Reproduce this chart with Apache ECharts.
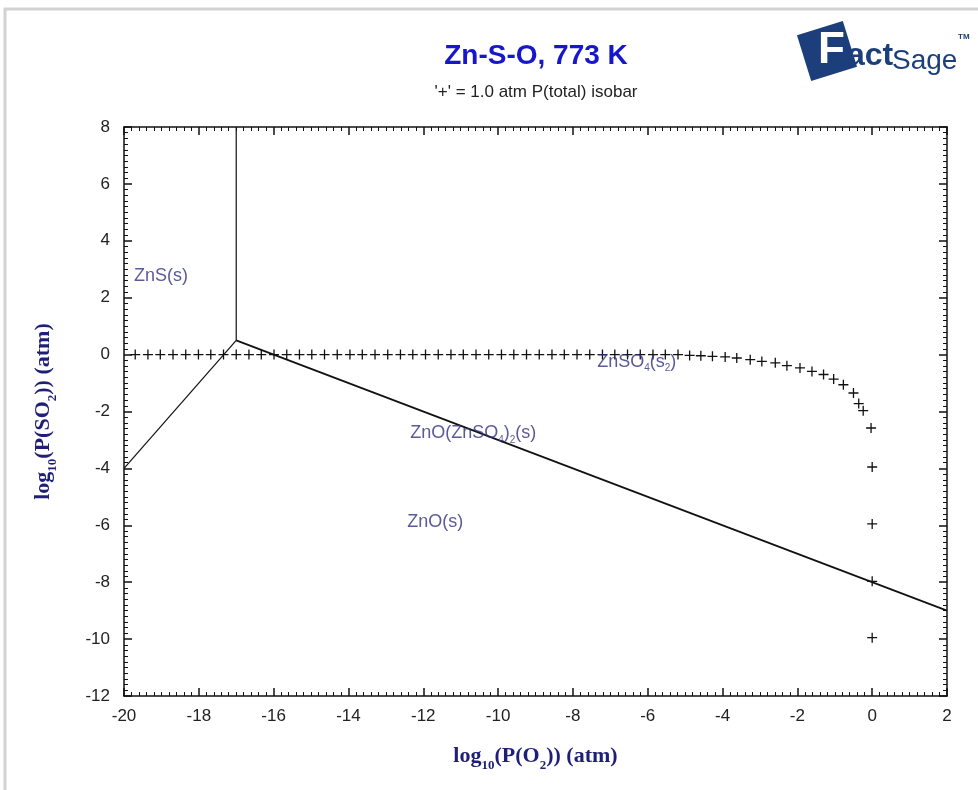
<!DOCTYPE html>
<html>
<head>
<meta charset="utf-8">
<script src="https://cdn.jsdelivr.net/npm/echarts@6/dist/echarts.min.js"></script>
<style>
  html, body { margin: 0; padding: 0; background: #fff; }
  #chart { width: 978px; height: 790px; }
</style>
</head>
<body>
<div id="chart"></div>
<script>
// Axis ranges and ticks (log10 of partial pressures, atm)
const xMin = -20, xMax = 2, xStep = 2;
const yMin = -12, yMax = 8, yStep = 2;

// Phase boundaries of the Zn-S-O predominance diagram at 773 K
const znsUpperBoundary = [[-17.0, 8.0], [-17.0, 0.5]];
const znsZnoBoundary = [[-20.0, -4.0], [-17.0, 0.5]];
const sulfateBoundary = [[-17.0, 0.5], [2.0, -9.0]];

// 1.0 atm total-pressure isobar ('+' points)
const isobarX = [
  -19.70, -19.36, -19.03, -18.69, -18.35, -18.01, -17.68, -17.34, -17.00, -16.66,
  -16.33, -15.99, -15.65, -15.31, -14.98, -14.64, -14.30, -13.96, -13.63, -13.29,
  -12.95, -12.61, -12.28, -11.94, -11.60, -11.26, -10.93, -10.59, -10.25, -9.91,
  -9.58, -9.24, -8.90, -8.56, -8.23, -7.89, -7.55, -7.21, -6.88, -6.54,
  -6.20, -5.86, -5.53, -5.19, -4.88, -4.58, -4.27, -3.93, -3.62, -3.26,
  -2.95, -2.59, -2.28, -1.93, -1.61, -1.30, -1.03, -0.77, -0.50, -0.36,
  -0.24, -0.03, 0.0, 0.0, 0.0, 0.0
];
const isobarY = [
  0, 0, 0, 0, 0, 0, 0, 0, 0, 0,
  0, 0, 0, 0, 0, 0, 0, 0, 0, 0,
  0, 0, 0, 0, 0, 0, 0, 0, 0, 0,
  0, 0, 0, 0, 0, 0, 0, 0, 0, 0,
  0, 0, 0, 0, -0.03, -0.04, -0.06, -0.08, -0.12, -0.18,
  -0.24, -0.29, -0.39, -0.47, -0.59, -0.70, -0.86, -1.06, -1.35, -1.72,
  -1.97, -2.58, -3.95, -5.95, -7.97, -9.95
];

// Predominance-area labels
const regionLabels = ['ZnS(s)', 'ZnSO{sub|4}(s{sub|2})', 'ZnO(ZnSO{sub|4}){sub|2}(s)', 'ZnO(s)'];
const regionX = [-19.73, -7.35, -12.35, -12.43];
const regionY = [2.75, -0.25, -2.75, -5.88];

const titleText = 'Zn-S-O, 773 K';
const subtitleText = "'+' = 1.0 atm P(total) isobar";
const xName = '{b|log}{s|10}{b|(P(O}{s|2}{b|)) (atm)}';
const yName = '{b|log}{s|10}{b|(P(SO}{s|2}{b|)) (atm)}';

const AXIS = '#111';
const NAVY = '#1f1f78';
const LABEL = '#2f2f82';
const LOGO = '#1c3f7c';

const nameStyle = {
  fontFamily: 'Liberation Serif, Times New Roman, serif',
  fontWeight: 'bold',
  fontSize: 22,
  color: NAVY,
  rich: {
    b: { fontFamily: 'Liberation Serif, serif', fontWeight: 'bold', fontSize: 22, color: NAVY, lineHeight: 26, verticalAlign: 'bottom' },
    s: { fontFamily: 'Liberation Serif, serif', fontWeight: 'bold', fontSize: 13, color: NAVY, lineHeight: 26, verticalAlign: 'bottom', padding: [0, 0, -5, 0] }
  }
};

function frameAxis(extra) {
  return Object.assign({
    type: 'value',
    splitLine: { show: false },
    axisLine: { show: true, onZero: false, lineStyle: { color: AXIS, width: 1.5 } },
    axisTick: { show: true, inside: true, length: 8, lineStyle: { color: AXIS, width: 1.5 } },
    minorTick: { show: true, splitNumber: 10, length: 4, lineStyle: { color: AXIS, width: 1 } },
    minorSplitLine: { show: false }
  }, extra);
}

const tickLabel = { fontFamily: 'Liberation Sans, Arial, sans-serif', fontSize: 17, color: '#222' };

const chart = echarts.init(document.getElementById('chart'), null, { renderer: 'canvas' });

const plusSymbol = 'path://M0,4.35H10V5.65H0Z M4.35,0H5.65V10H4.35Z';

chart.setOption({
  animation: false,
  backgroundColor: '#fff',
  grid: { left: 124, right: 31, top: 127, bottom: 94, containLabel: false },
  xAxis: [
    frameAxis({
      position: 'bottom', min: xMin, max: xMax, interval: xStep,
      axisLabel: Object.assign({ margin: 12 }, tickLabel),
      name: xName, nameLocation: 'middle', nameGap: 45, nameTextStyle: nameStyle
    }),
    frameAxis({ position: 'top', min: xMin, max: xMax, interval: xStep, axisLabel: { show: false } })
  ],
  yAxis: [
    frameAxis({
      position: 'left', min: yMin, max: yMax, interval: yStep,
      axisLabel: Object.assign({ margin: 14 }, tickLabel),
      name: yName, nameLocation: 'middle', nameGap: 70, nameTextStyle: nameStyle
    }),
    frameAxis({ position: 'right', min: yMin, max: yMax, interval: yStep, axisLabel: { show: false } })
  ],
  graphic: [
    { type: 'rect', z: -10, shape: { x: 5, y: 9, width: 1200, height: 1200 }, style: { fill: 'none', stroke: '#d2d2d2', lineWidth: 3 } },
    { type: 'text', x: 536, y: 56, style: { text: titleText, font: 'bold 28px Liberation Sans, Arial, sans-serif', fill: '#1616cc', textAlign: 'center', textVerticalAlign: 'middle' } },
    { type: 'text', x: 536, y: 92, style: { text: subtitleText, font: '17px Liberation Sans, Arial, sans-serif', fill: '#222', textAlign: 'center', textVerticalAlign: 'middle' } },
    // FactSage logo
    { type: 'group', children: [
      { type: 'rect', x: 827, y: 51, rotation: 0.3, shape: { x: -24, y: -24, width: 48, height: 48 }, style: { fill: LOGO } },
      { type: 'text', x: 818, y: 73, style: { text: 'F', font: 'bold 44px Liberation Sans, Arial, sans-serif', fill: '#fff', stroke: LOGO, lineWidth: 2, textVerticalAlign: 'bottom' } },
      { type: 'text', x: 847, y: 72, style: { text: 'act', font: 'bold 32px Liberation Sans, Arial, sans-serif', fill: LOGO, textVerticalAlign: 'bottom' } },
      { type: 'text', x: 892, y: 75, style: { text: 'Sage', font: '28px Liberation Sans Narrow, Liberation Sans, Arial, sans-serif', fill: LOGO, textVerticalAlign: 'bottom' } },
      { type: 'text', x: 958, y: 37, style: { text: 'TM', font: 'bold 8px Liberation Sans, Arial, sans-serif', fill: LOGO, textVerticalAlign: 'middle' } }
    ] }
  ],
  series: [
    { type: 'line', data: znsUpperBoundary, symbol: 'none', silent: true, lineStyle: { color: '#111', width: 1.2 } },
    { type: 'line', data: znsZnoBoundary, symbol: 'none', silent: true, lineStyle: { color: '#111', width: 1.2 } },
    { type: 'line', data: sulfateBoundary, symbol: 'none', silent: true, lineStyle: { color: '#111', width: 1.7 } },
    {
      type: 'scatter', silent: true,
      data: isobarX.map((x, i) => [x, isobarY[i]]),
      symbol: plusSymbol, symbolSize: 10,
      itemStyle: { color: '#111', opacity: 1 }
    },
    {
      type: 'scatter', silent: true, z: 5,
      data: regionLabels.map((t, i) => ({ name: t, value: [regionX[i], regionY[i]] })),
      symbolSize: 0,
      label: {
        show: true, position: 'right', distance: 0,
        formatter: p => p.name,
        fontFamily: 'Liberation Sans, Arial, sans-serif', fontSize: 18, color: LABEL, lineHeight: 20,
        rich: {
          sub: { fontFamily: 'Liberation Sans, Arial, sans-serif', fontSize: 10, color: LABEL, verticalAlign: 'bottom', lineHeight: 20, padding: [0, 0, -2, 0] }
        }
      }
    }
  ]
});
</script>
</body>
</html>
